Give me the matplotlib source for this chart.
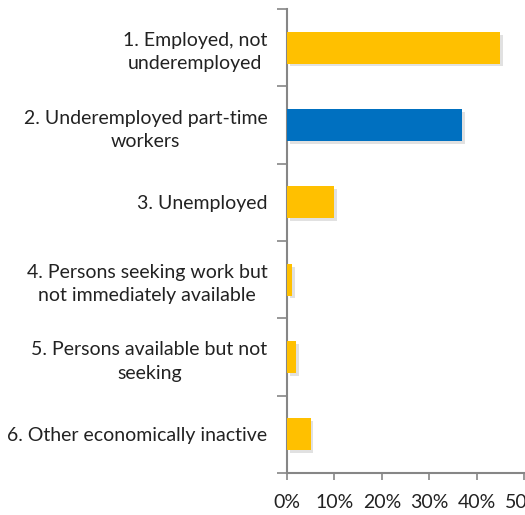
import numpy as np
import matplotlib.pyplot as plt
import matplotlib.patheffects as pe

# Share of population by labour force category
categories = [
    "1. Employed, not\nunderemployed",
    "2. Underemployed part-time\nworkers",
    "3. Unemployed",
    "4. Persons seeking work but\nnot immediately available",
    "5. Persons available but not\nseeking",
    "6. Other economically inactive",
]
shares = [45, 37, 10, 1, 2, 5]
highlight = [False, True, False, False, False, False]
xticks = [0, 10, 20, 30, 40, 50]

yellow = "#FFC000"
blue = "#0070C0"
axis_grey = "#868686"

plt.rcParams['font.family'] = ['Lato', 'DejaVu Sans']

fig = plt.figure(figsize=(5.25, 5.15), dpi=100)
ax = fig.add_axes([0.5467, 0.0816, 0.4513, 0.9009])

n = len(categories)
y = np.arange(n)
colors = [blue if h else yellow for h in highlight]
bars = ax.barh(y, shares, height=0.41, color=colors, zorder=3)
for b in bars:
    b.set_path_effects([pe.SimplePatchShadow(offset=(2, -2), shadow_rgbFace="#aaaaaa", alpha=0.35),
                        pe.Normal()])

ax.set_ylim(n - 0.5, -0.5)
ax.set_xlim(0, 50)

# tick marks on category boundaries, labels at centres
ax.set_yticks(np.arange(n + 1) - 0.5)
ax.set_yticklabels([])
ax.set_yticks(y, minor=True)
ax.set_yticklabels(categories, minor=True, multialignment='center', linespacing=1.45)
ax.tick_params(axis='y', which='major', length=7, width=1.2, color=axis_grey, direction='out')
ax.tick_params(axis='y', which='minor', length=0, pad=14, labelsize=14, labelcolor='#222222')

ax.set_xticks(xticks)
ax.set_xticklabels([f"{v}%" for v in xticks])
ax.tick_params(axis='x', length=5, width=1.2, color=axis_grey, direction='out', pad=10,
               labelsize=14, labelcolor='#222222')

for side in ['top', 'right']:
    ax.spines[side].set_visible(False)
for side in ['left', 'bottom']:
    ax.spines[side].set_color(axis_grey)
    ax.spines[side].set_linewidth(1.5)

fig.savefig("out.png", dpi=100)
